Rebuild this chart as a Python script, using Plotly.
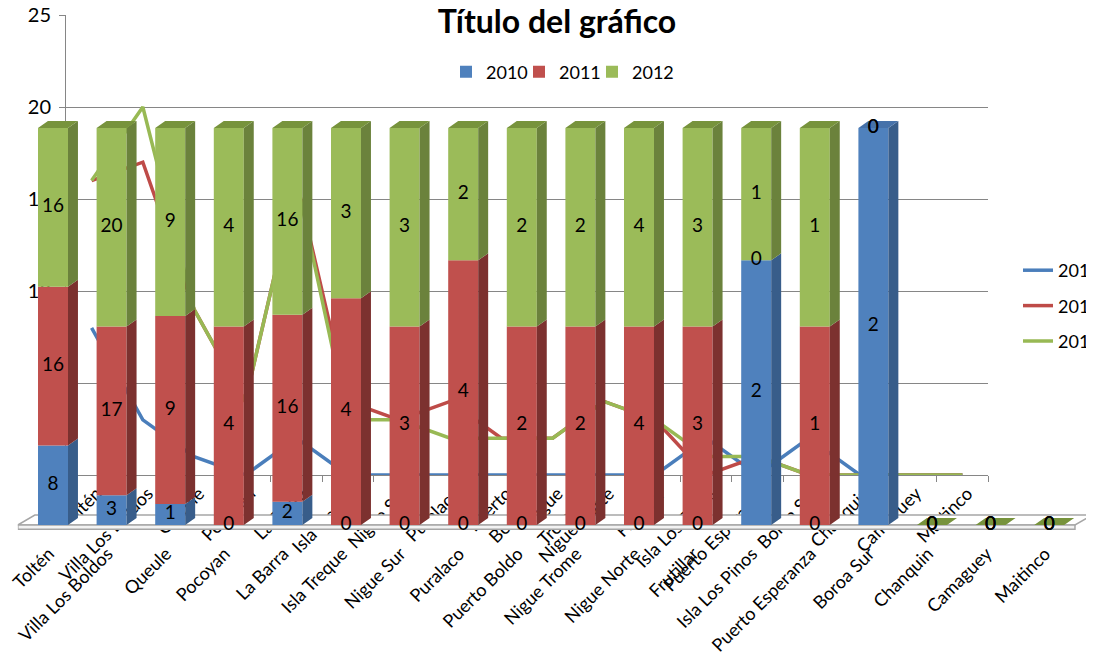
import plotly.graph_objects as go

# ---------------- data ----------------
cats = ["Toltén", "Villa Los Boldos", "Queule", "Pocoyan", "La Barra", "Isla Treque",
        "Nigue Sur", "Puralaco", "Puerto Boldo", "Nigue Trome", "Nigue Norte", "Frutillar",
        "Isla Los Pinos", "Puerto Esperanza", "Boroa Sur", "Chanquin", "Camaguey", "Maitinco"]
line_ticktext = ["Toltén", "Villa Los Boldos", "Queule", "Pocoyan", "La Barra", "Isla Treque",
                 "Nigue Sur", "Puralaco", "Puerto<br>Boldo", "Nigue<br>Trome", "Nigue Norte", "Frutillar",
                 "Isla Los Pinos", "Puerto Esperanza", "Boroa Sur", "Chanquin", "Camaguey", "Maitinco"]
years = ["2010", "2011", "2012"]
v2010 = [8, 3, 1, 0, 2, 0, 0, 0, 0, 0, 0, 0, 2, 0, 2, 0, 0, 0]
v2011 = [16, 17, 9, 4, 16, 4, 3, 4, 2, 2, 4, 3, 0, 1, 0, 0, 0, 0]
v2012 = [16, 20, 9, 4, 16, 3, 3, 2, 2, 2, 4, 3, 1, 1, 0, 0, 0, 0]
y_ticks = [0, 5, 10, 15, 20, 25]

# ---------------- styles ----------------
FONT = "Lato"
front = ["#4F81BD", "#C0504D", "#9BBB59"]
side = ["#385D8A", "#7C312F", "#6B823C"]
top = ["#4672AA", "#A84441", "#77933C"]
line_col = ["#4A7EBB", "#BE4B48", "#98B954"]
W, H = 1094, 654
PAGE_OFF = 8  # default body margin of the html page

n = len(cats)
series = [v2010, v2011, v2012]
idx = list(range(n))

# bar geometry (in x2 / y2 data units)
bw = 0.512
dx = 0.17
dy = 1.76

fig = go.Figure()

# ---------------- line chart (x, y) ----------------
for i, (name, vals) in enumerate(zip(years, series)):
    fig.add_trace(go.Scatter(
        x=idx, y=vals, mode="lines", name=name,
        line=dict(color=line_col[i], width=3.5),
        xaxis="x", yaxis="y", legend="legend", legendgroup=name,
    ))

# ---------------- 3D-looking 100% stacked bars (x2, y2) ----------------
totals = [a + b + c for a, b, c in zip(v2010, v2011, v2012)]
pct = []
bases = []
for s in series:
    pct.append([])
    bases.append([])
cum = [0.0] * n
for i, s in enumerate(series):
    for k in range(n):
        p = 100.0 * s[k] / totals[k] if totals[k] else 0.0
        pct[i].append(p)
        bases[i].append(cum[k])
        cum[k] += p

for i, name in enumerate(years):
    fig.add_trace(go.Bar(
        x=idx, y=pct[i], base=bases[i], width=bw, name=name,
        marker=dict(color=front[i], line=dict(width=0)),
        xaxis="x2", yaxis="y2", legend="legend2", hoverinfo="skip",
    ))
    # side faces
    sx, sy = [], []
    for k in range(n):
        if pct[i][k] <= 0:
            continue
        b = bases[i][k]
        t = b + pct[i][k]
        xr = k + bw / 2
        sx += [xr, xr + dx, xr + dx, xr, xr, None]
        sy += [b, b + dy, t + dy, t, b, None]
    fig.add_trace(go.Scatter(
        x=sx, y=sy, mode="lines", fill="toself", fillcolor=side[i],
        line=dict(width=0, color=side[i]), xaxis="x2", yaxis="y2",
        showlegend=False, hoverinfo="skip",
    ))

# spacer entry so the compact top legend keeps room for its last label
fig.add_trace(go.Bar(
    x=[None], y=[None], name=" ",
    marker=dict(color="rgba(0,0,0,0)", line=dict(width=0, color="rgba(0,0,0,0)")),
    xaxis="x2", yaxis="y2", legend="legend2", hoverinfo="skip",
))

# top faces (topmost non-zero segment; flat green face for empty bars)
for i in range(3):
    tx, ty = [], []
    for k in range(n):
        topmost = None
        for j in range(3):
            if pct[j][k] > 0:
                topmost = j
        if totals[k] == 0:
            topmost = 2
            T = 0.0
        else:
            T = 100.0
        if topmost != i:
            continue
        xl = k - bw / 2
        xr = k + bw / 2
        tx += [xl, xl + dx, xr + dx, xr, xl, None]
        ty += [T, T + dy, T + dy, T, T, None]
    if tx:
        fig.add_trace(go.Scatter(
            x=tx, y=ty, mode="lines", fill="toself", fillcolor=top[i],
            line=dict(width=0, color=top[i]), xaxis="x2", yaxis="y2",
            showlegend=False, hoverinfo="skip",
        ))

# data labels
lx, ly, lt = [], [], []
for i in range(3):
    for k in range(n):
        lx.append(k)
        ly.append(bases[i][k] + pct[i][k] / 2)
        lt.append(str(series[i][k]))
fig.add_trace(go.Scatter(
    x=lx, y=ly, text=lt, mode="text", textposition="middle center",
    textfont=dict(family=FONT, size=19, color="#000000"),
    xaxis="x2", yaxis="y2", showlegend=False, hoverinfo="skip", cliponaxis=False,
))

# floor of the 3D plot
fl, fr = -0.6, n - 0.56
fdx, fdy = 0.29, 2.5
floor_top = f"M{fl},0 L{fr},0 L{fr + fdx},{fdy} L{fl + fdx},{fdy} Z"
floor_front = f"M{fl},0 L{fr},0 L{fr},-1.1 L{fl},-1.1 Z"
fig.add_shape(type="path", path=floor_top, xref="x2", yref="y2", layer="below",
              fillcolor="#FFFFFF", line=dict(color="#A6A6A6", width=1.5))
fig.add_shape(type="path", path=floor_front, xref="x2", yref="y2", layer="below",
              fillcolor="#F2F2F2", line=dict(color="#A6A6A6", width=1.5))

# ---------------- layout ----------------
def px_x(p):
    return (p - PAGE_OFF) / W

def px_y(p):
    return 1 - (p - PAGE_OFF) / H

# x2/y2 mapping: category k -> 53 + 58.6k px ; 0% -> 525 px ; 100% -> 128 px
x2_range = [-0.6, 17.75]
x2_dom = [px_x(53 + x2_range[0] * 58.6), px_x(53 + x2_range[1] * 58.6)]
y2_range = [-5, 105]
ppu = (525 - 128) / 100.0
y2_dom = [px_y(525 - y2_range[0] * ppu), px_y(525 - y2_range[1] * ppu)]

fig.update_layout(
    width=W, height=H,
    margin=dict(l=0, r=0, t=0, b=0, autoexpand=False),
    paper_bgcolor="#FFFFFF",
    plot_bgcolor="rgba(0,0,0,0)",
    barmode="overlay",
    font=dict(family=FONT, size=18, color="#000000"),
    title=dict(text="<b>Título del gráfico</b>", x=px_x(557), xanchor="center",
               y=px_y(22), yanchor="middle", font=dict(family=FONT, size=32, color="#000000")),
    xaxis=dict(
        domain=[px_x(66), px_x(988)], range=[-0.5, n - 0.5],
        tickmode="array", tickvals=idx, ticktext=line_ticktext, tickangle=-45,
        ticks="", showgrid=False, zeroline=False, automargin=False,
        showline=True, linecolor="#868686", linewidth=1,
        minor=dict(tick0=-0.5, dtick=1, ticks="outside", ticklen=6, tickcolor="#868686"),
        tickfont=dict(family=FONT, size=18), ticklabelshift=5, ticklabeloverflow="allow",
        anchor="y",
    ),
    yaxis=dict(
        domain=[px_y(475), px_y(15)], range=[0, 25],
        tickmode="array", tickvals=y_ticks, automargin=False,
        showgrid=True, gridcolor="#868686", gridwidth=1, zeroline=False,
        showline=True, linecolor="#868686", linewidth=1,
        ticks="outside", ticklen=6, tickcolor="#868686",
        tickfont=dict(family=FONT, size=20), ticklabelstandoff=4,
        ticklabeloverflow="allow",
        anchor="x",
    ),
    xaxis2=dict(
        domain=x2_dom, range=x2_range, automargin=False,
        tickmode="array", tickvals=idx, ticktext=cats, tickangle=-45,
        ticks="", showgrid=False, zeroline=False, showline=False,
        tickfont=dict(family=FONT, size=18), ticklabelshift=-4, ticklabelstandoff=-6,
        ticklabeloverflow="allow",
        anchor="y2",
    ),
    yaxis2=dict(
        domain=y2_dom, range=y2_range, visible=False, anchor="x2",
        showgrid=False, zeroline=False, automargin=False,
    ),
    legend=dict(
        x=px_x(1018), xanchor="left", y=px_y(252), yanchor="top",
        orientation="v", font=dict(family=FONT, size=18),
        bgcolor="rgba(0,0,0,0)", tracegroupgap=9,
    ),
    legend2=dict(
        x=px_x(446), xanchor="left", y=px_y(72), yanchor="middle",
        orientation="h", font=dict(family=FONT, size=18),
        entrywidth=28, entrywidthmode="pixels",
        bgcolor="rgba(0,0,0,0)",
    ),
    showlegend=True,
)

fig.write_html("out.html")
